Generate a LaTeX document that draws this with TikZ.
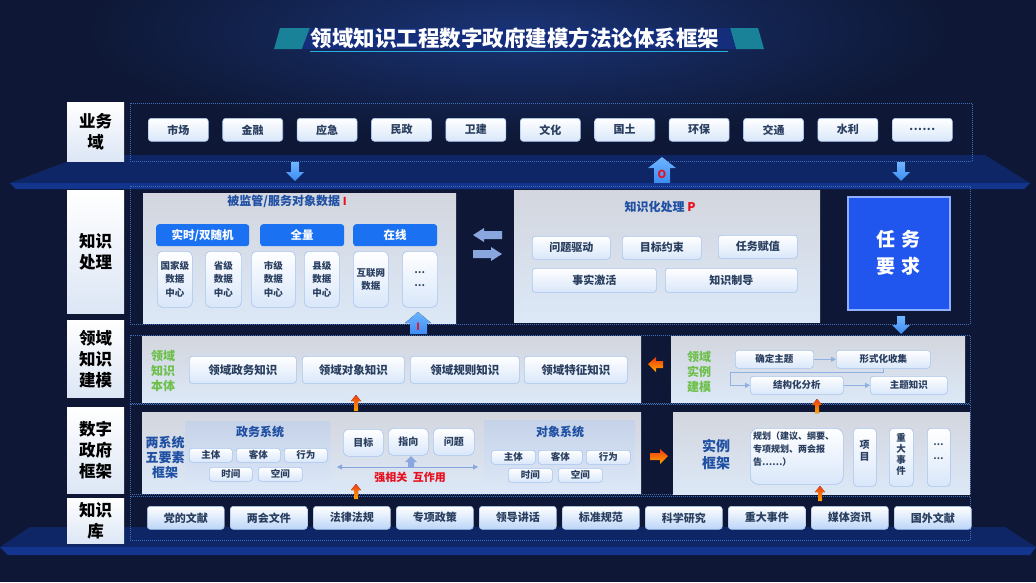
\documentclass[tikz,border=0pt]{standalone}
\usepackage{fontspec}
\setmainfont{Noto Sans CJK SC}
\usetikzlibrary{arrows.meta}
\definecolor{bgnavy}{HTML}{0E1836}
\definecolor{bgglow}{HTML}{1A3374}
\definecolor{dashc}{HTML}{3F6FB8}
\definecolor{boxtxt}{HTML}{2A3F5F}
\definecolor{ttlblue}{HTML}{1E4FA3}
\definecolor{hdrblue}{HTML}{1A72F2}
\definecolor{boxline}{HTML}{A6C4EE}
\definecolor{boxbot}{HTML}{D9E7FA}
\definecolor{kbbot}{HTML}{BCD5F8}
\definecolor{pnltop}{HTML}{D3D6DE}
\definecolor{pnlbot}{HTML}{DCE8F7}
\definecolor{subtop}{HTML}{C6D2E8}
\definecolor{labbot}{HTML}{DCE6F5}
\definecolor{greenT}{HTML}{6CC04A}
\definecolor{redT}{HTML}{E8101E}
\definecolor{taskblue}{HTML}{2156EE}
\definecolor{taskline}{HTML}{8FB0FF}
\definecolor{arrblue}{HTML}{3C8CF4}
\definecolor{arrblue2}{HTML}{6FB4FF}
\definecolor{arrlight}{HTML}{8AA6DE}
\definecolor{orangeA}{HTML}{FFA600}
\definecolor{orangeR}{HTML}{F03A10}
\definecolor{bandc}{HTML}{0E2666}
\definecolor{bandl}{HTML}{14358E}
\definecolor{tealc}{HTML}{1A8298}
\definecolor{ttlband}{HTML}{142E7C}
\definecolor{cyanl}{HTML}{2AB0E0}
\definecolor{flowc}{HTML}{8FB0E0}
\tikzset{
  box/.style={draw=boxline, line width=0.6pt, rounded corners=3pt, top color=white, bottom color=boxbot,
    inner sep=0pt, text=boxtxt, font=\bfseries\fontsize{11}{13}\selectfont, anchor=north west},
  kbbox/.style={box, bottom color=kbbot},
  tallbox/.style={box, rounded corners=5pt, font=\bfseries\fontsize{9.5}{13.5}\selectfont, align=center},
  smallbox/.style={box, font=\bfseries\fontsize{9.5}{11}\selectfont},
  lab/.style={top color=white, bottom color=labbot, inner sep=0pt, text=black, anchor=north west,
    font=\bfseries\fontsize{16.5}{21}\selectfont, align=center},
  panel/.style={top color=pnltop, bottom color=pnlbot, inner sep=0pt, anchor=north west},
  subpanel/.style={top color=subtop, bottom color=pnlbot, inner sep=0pt, anchor=north west},
  hdr/.style={fill=hdrblue, rounded corners=3pt, inner sep=0pt, text=white, anchor=north west,
    font=\bfseries\fontsize{11.5}{13}\selectfont},
  frame/.style={draw=dashc, dash pattern=on 1pt off 1pt, line width=0.6pt},
  ttl/.style={text=ttlblue, font=\bfseries\fontsize{12}{14}\selectfont},
  greentxt/.style={text=greenT, font=\bfseries\fontsize{12}{15}\selectfont, align=center},
  bluetxt/.style={text=ttlblue, font=\bfseries\fontsize{13}{15}\selectfont, align=center},
  barrow/.style={top color=arrblue2, bottom color=arrblue},
  oarrow/.style={top color=orangeR, bottom color=orangeA},
  larrow/.style={fill=arrlight},
  flow/.style={draw=flowc, line width=0.8pt, -{Triangle[length=5pt,width=5pt]}},
}
\begin{document}
\begin{tikzpicture}[x=1pt,y=-1pt]
\useasboundingbox (0,0) rectangle (1036,582);
% background
\fill[bgnavy] (0,0) rectangle (1036,582);
\shade[inner color=bgglow, outer color=bgnavy] (518,30) ellipse (430 and 110);
% title banner
\fill[tealc] (280,28) -- (310,28) -- (302,49) -- (274,49) -- cycle;
\fill[tealc] (730,28) -- (758,28) -- (764,49) -- (736,49) -- cycle;
\fill[ttlband] (310,28) -- (730,28) -- (736,49) -- (302,49) -- cycle;
\draw[cyanl, line width=1pt] (310,51) -- (728,51);
\node[text=white, font=\bfseries\fontsize{21.5}{24}\selectfont] (title) at (515,38) {领域知识工程数字政府建模方法论体系框架};
% bands
\fill[bandc] (85,155) -- (985,155) -- (1030,183) -- (10,183) -- cycle;
\fill[bandl] (10,183) -- (1030,183) -- (1024,189) -- (16,189) -- cycle;
\fill[bandc] (30,527) -- (1005,527) -- (1036,547) -- (0,547) -- cycle;
\fill[bandl] (0,547) -- (1036,547) -- (1030,555) -- (8,555) -- cycle;
% dashed frames
\draw[frame] (130,103) rectangle (972,161);
\draw[frame] (130,186) rectangle (970,324);
\draw[frame] (130,335) rectangle (970,403);
\draw[frame] (130,404) rectangle (970,494);
\draw[frame] (130,496) rectangle (970,540);
% left labels
\node[lab, minimum width=57pt, minimum height=59pt] (L1) at (67,102) {业务\\域};
\node[lab, minimum width=57pt, minimum height=123pt] (L2) at (67,190) {知识\\处理};
\node[lab, minimum width=57pt, minimum height=77pt] (L3) at (67,320) {领域\\知识\\建模};
\node[lab, minimum width=57pt, minimum height=86pt] (L4) at (67,407) {数字\\政府\\框架};
\node[lab, minimum width=57pt, minimum height=45pt] (L5) at (67,498) {知识\\库};
% row 1: business domains
\foreach \t [count=\i from 0] in {市场,金融,应急,民政,卫建,文化,国土,环保,交通,水利}
  \node[box, minimum width=60pt, minimum height=23pt] (bd\i) at ({148+74.4*\i},118) {\t};
\node[box, minimum width=60pt, minimum height=23pt] (bd10) at (892,118) {.\kern0.5pt.\kern0.5pt.\kern0.5pt.\kern0.5pt.\kern0.5pt.};
% band arrows
\fill[barrow] (291,162) -- (299,162) -- (299,172) -- (304,172) -- (295,181) -- (286,172) -- (291,172) -- cycle;
\fill[barrow] (897,162) -- (905,162) -- (905,172) -- (910,172) -- (901,181) -- (892,172) -- (897,172) -- cycle;
\fill[barrow] (654,183) -- (670,183) -- (670,168) -- (676,168) -- (662,157) -- (648,168) -- (654,168) -- cycle;
\node[text=redT, font=\bfseries\fontsize{11}{12}\selectfont] (oO) at (662,174) {O};
% row 2 left panel
\node[panel, minimum width=313pt, minimum height=130pt] (p2l) at (143,193) {};
\node[ttl] (p2lt) at (287,201) {被监管/服务对象数据 \textcolor{redT}{\fontsize{11}{12}\selectfont I}};
\node[hdr, minimum width=93pt, minimum height=22pt] (h1) at (156,224) {实时/双随机};
\node[hdr, minimum width=84pt, minimum height=22pt] (h2) at (260,224) {全量};
\node[hdr, minimum width=84pt, minimum height=22pt] (h3) at (353,224) {在线};
\node[tallbox, minimum width=35pt, minimum height=56pt] (s1) at (157,251) {国家级\\数据\\中心};
\node[tallbox, minimum width=36pt, minimum height=56pt] (s2) at (205,251) {省级\\数据\\中心};
\node[tallbox, minimum width=44pt, minimum height=56pt] (s3) at (251,251) {市级\\数据\\中心};
\node[tallbox, minimum width=35pt, minimum height=56pt] (s4) at (304,251) {县级\\数据\\中心};
\node[tallbox, minimum width=35pt, minimum height=56pt] (s5) at (353,251) {互联网\\数据};
\node[tallbox, minimum width=35pt, minimum height=56pt] (s6) at (402,251) {…\\…};
% exchange arrows
\fill[larrow] (502,231) -- (484,231) -- (484,228) -- (473,235) -- (484,242) -- (484,239) -- (502,239) -- cycle;
\fill[larrow] (473,250) -- (491,250) -- (491,247) -- (502,254) -- (491,261) -- (491,258) -- (473,258) -- cycle;
% row 2 right panel
\node[panel, minimum width=306pt, minimum height=132pt] (p2r) at (514,190) {};
\node[ttl] (p2rt) at (660,207) {知识化处理 \textcolor{redT}{P}};
\node[box, minimum width=78pt, minimum height=23pt] (k1) at (532,236) {问题驱动};
\node[box, minimum width=79pt, minimum height=23pt] (k2) at (622,236) {目标约束};
\node[box, minimum width=79pt, minimum height=23pt] (k3) at (718,235) {任务赋值};
\node[box, minimum width=124pt, minimum height=24pt] (k4) at (532,268) {事实激活};
\node[box, minimum width=132pt, minimum height=24pt] (k5) at (665,268) {知识制导};
% task box
\node[draw=taskline, line width=1.5pt, fill=taskblue, inner sep=0pt, anchor=north west, minimum width=102pt, minimum height=113pt,
  text=white, font=\bfseries\fontsize{19}{27}\selectfont, align=center] (task) at (847,196) {任\,\,务\\要\,\,求};
% arrows between row 2 and 3
\fill[barrow] (410,334) -- (427,334) -- (427,323) -- (431,323) -- (418,312) -- (405,323) -- (410,323) -- cycle;
\node[text=redT, font=\bfseries\fontsize{10}{11}\selectfont] (oI) at (418,327) {I};
\fill[barrow] (897,316) -- (905,316) -- (905,325) -- (910,325) -- (901,334) -- (892,325) -- (897,325) -- cycle;
% row 3 left
\node[panel, minimum width=499pt, minimum height=66pt] (p3l) at (142,336) {};
\node[greentxt] (g1) at (163,371) {领域\\知识\\本体};
\node[box, font=\bfseries\fontsize{11.5}{13}\selectfont, minimum width=107pt, minimum height=27pt] (d1) at (189,356) {领域政务知识};
\node[box, font=\bfseries\fontsize{11.5}{13}\selectfont, minimum width=102pt, minimum height=27pt] (d2) at (302,356) {领域对象知识};
\node[box, font=\bfseries\fontsize{11.5}{13}\selectfont, minimum width=109pt, minimum height=27pt] (d3) at (410,356) {领域规则知识};
\node[box, font=\bfseries\fontsize{11.5}{13}\selectfont, minimum width=103pt, minimum height=27pt] (d4) at (524,356) {领域特征知识};
% row 3 right
\node[panel, minimum width=294pt, minimum height=66pt] (p3r) at (671,336) {};
\node[greentxt] (g2) at (699,372) {领域\\实例\\建模};
\node[smallbox, minimum width=78pt, minimum height=18pt] (q1) at (735,350) {确定主题};
\node[smallbox, minimum width=94pt, minimum height=18pt] (q2) at (836,350) {形式化收集};
\node[smallbox, minimum width=93pt, minimum height=18pt] (q3) at (750,376) {结构化分析};
\node[smallbox, minimum width=77pt, minimum height=18pt] (q4) at (870,376) {主题知识};
\draw[flow] (q1.east) -- (q2.west);
\draw[flow] (q2.south) -- ++(0,4) -| ([xshift=-20pt]q3.west) -- (q3.west);
\draw[flow] (q3.east) -- (q4.west);
% row 4 left
\node[panel, minimum width=499pt, minimum height=81pt] (p4l) at (142,412) {};
\node[bluetxt] (t4) at (165,457) {两系统\\五要素\\框架};
\node[subpanel, minimum width=145pt, minimum height=69pt] (zw) at (185,421) {};
\node[ttl] (zwt) at (260,432) {政务系统};
\node[smallbox, minimum width=43pt, minimum height=14pt] (z1) at (189,448) {主体};
\node[smallbox, minimum width=44pt, minimum height=14pt] (z2) at (236,448) {客体};
\node[smallbox, minimum width=43pt, minimum height=14pt] (z3) at (284,448) {行为};
\node[smallbox, minimum width=43pt, minimum height=14pt] (z4) at (209,467) {时间};
\node[smallbox, minimum width=44pt, minimum height=14pt] (z5) at (258,467) {空间};
\node[tallbox, font=\bfseries\fontsize{10}{12}\selectfont, minimum width=40pt, minimum height=27pt] (m1) at (343,429) {目标};
\node[tallbox, font=\bfseries\fontsize{10}{12}\selectfont, minimum width=40pt, minimum height=27pt] (m2) at (388,428) {指向};
\node[tallbox, font=\bfseries\fontsize{10}{12}\selectfont, minimum width=41pt, minimum height=27pt] (m3) at (433,428) {问题};
\fill[fill=arrlight] (408,467) -- (414,467) -- (414,462) -- (417,462) -- (411,456) -- (405,462) -- (408,462) -- cycle;
\coordinate (dal) at (337,467);
\coordinate (dar) at (478,467);
\draw[draw=arrlight, line width=0.8pt, {Triangle[length=5pt,width=5pt]}-{Triangle[length=5pt,width=5pt]}] (dal) -- (dar);
\node[text=redT, font=\bfseries\fontsize{11}{13}\selectfont] (rel) at (410,477) {强相关\enspace 互作用};
\node[subpanel, minimum width=151pt, minimum height=70pt] (dx) at (484,420) {};
\node[ttl] (dxt) at (560,432) {对象系统};
\node[smallbox, minimum width=44pt, minimum height=14pt] (o1) at (491,450) {主体};
\node[smallbox, minimum width=44pt, minimum height=14pt] (o2) at (538,450) {客体};
\node[smallbox, minimum width=44pt, minimum height=14pt] (o3) at (586,450) {行为};
\node[smallbox, minimum width=44pt, minimum height=14pt] (o4) at (508,468) {时间};
\node[smallbox, minimum width=44pt, minimum height=14pt] (o5) at (558,468) {空间};
% row 4 right
\node[panel, minimum width=297pt, minimum height=82pt] (p4r) at (673,412) {};
\node[bluetxt, font=\bfseries\fontsize{14}{17}\selectfont] (t4r) at (716,455) {实例\\框架};
\node[box, rounded corners=8pt, minimum width=93pt, minimum height=56pt] (e1) at (750,428) {};
\node[text=boxtxt, font=\bfseries\fontsize{9}{13}\selectfont, align=left, anchor=north west, inner sep=0pt] (e1t) at (753,432) {规划（建议、纲要、\\专项规划、两会报\\告……）};
\node[box, rounded corners=4pt, minimum width=23pt, minimum height=58pt] (e2) at (853,428) {};
\node[text=boxtxt, font=\bfseries\fontsize{10}{12}\selectfont, align=center] (e2t) at (864.5,451) {项\\目};
\node[box, rounded corners=4pt, minimum width=24pt, minimum height=58pt] (e3) at (889,428) {};
\node[text=boxtxt, font=\bfseries\fontsize{9.5}{11}\selectfont, align=center] (e3t) at (901,454) {重\\大\\事\\件};
\node[box, rounded corners=4pt, minimum width=23pt, minimum height=58pt] (e4) at (927,428) {};
\node[text=boxtxt, font=\bfseries\fontsize{9}{14}\selectfont, align=center] (e4t) at (938.5,452) {…\\…};
% orange arrows
\fill[oarrow] (648,364) -- (656,357) -- (656,361) -- (663,361) -- (663,368) -- (656,368) -- (656,372) -- cycle;
\fill[oarrow] (668,456) -- (660,449) -- (660,453) -- (650,453) -- (650,460) -- (660,460) -- (660,464) -- cycle;
\fill[oarrow] (356,395) -- (361,401) -- (358,401) -- (358,411) -- (354,411) -- (354,401) -- (351,401) -- cycle;
\fill[oarrow] (817,399) -- (822,405) -- (819,405) -- (819,413) -- (815,413) -- (815,405) -- (812,405) -- cycle;
\fill[oarrow] (356,484) -- (361,490) -- (358,490) -- (358,499) -- (354,499) -- (354,490) -- (351,490) -- cycle;
\fill[oarrow] (820,486) -- (825,492) -- (822,492) -- (822,501) -- (818,501) -- (818,492) -- (815,492) -- cycle;
% row 5 knowledge base
\foreach \t [count=\i from 0] in {党的文献,两会文件,法律法规,专项政策,领导讲话,标准规范,科学研究,重大事件,媒体资讯,国外文献}
  \node[kbbox, minimum width=77pt, minimum height=23pt] (kb\i) at ({147+83*\i},506) {\t};
\end{tikzpicture}
\end{document}
